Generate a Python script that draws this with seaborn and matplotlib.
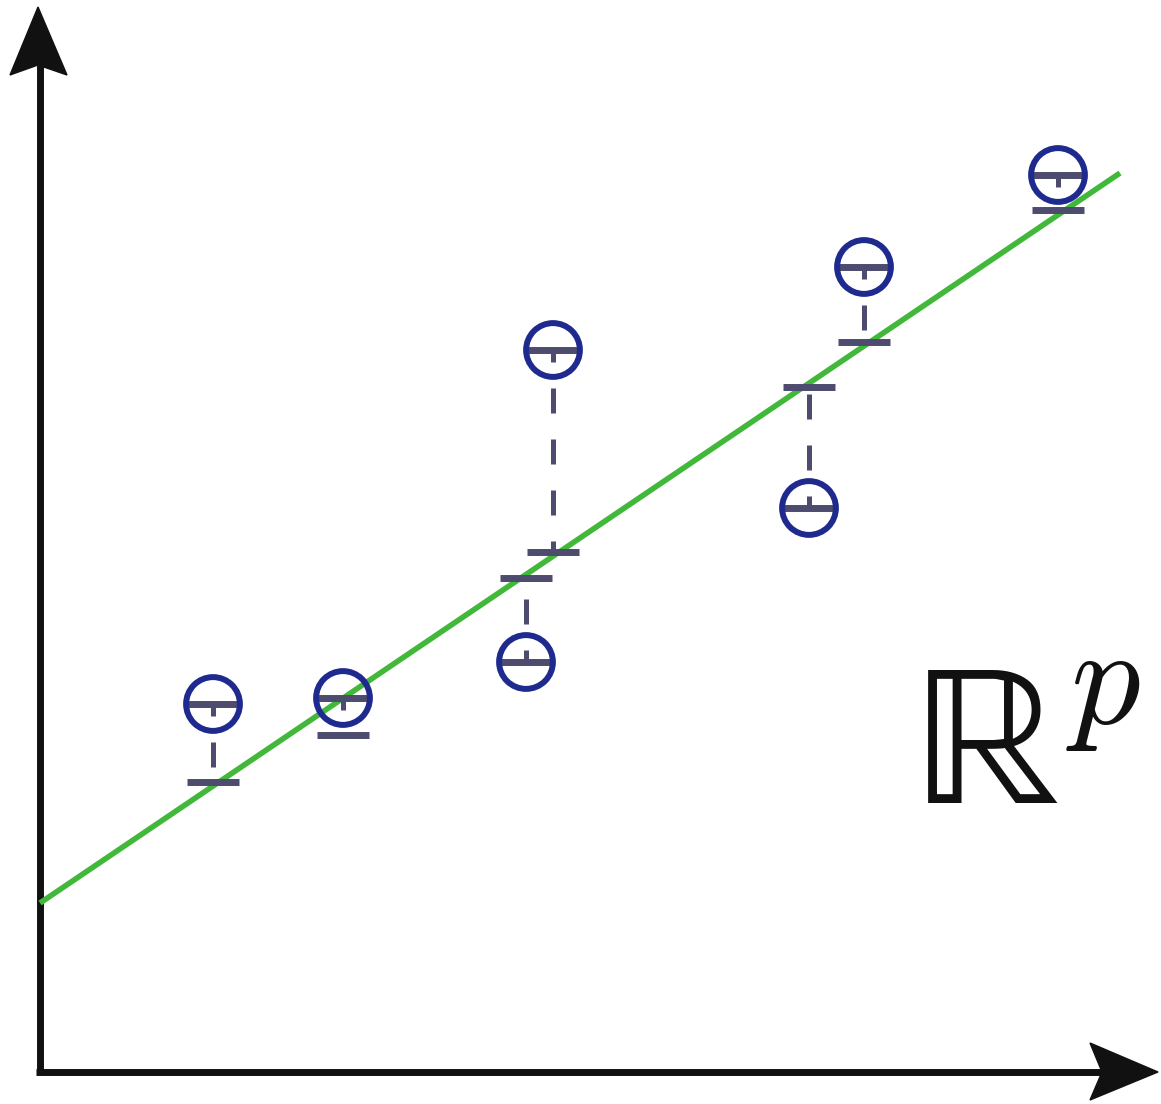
import matplotlib
matplotlib.use("Agg")
import matplotlib.pyplot as plt
import seaborn as sns
import pandas as pd
from matplotlib.patches import Polygon

sns.set_style("white")
plt.rcParams["mathtext.fontset"] = "cm"

# data (arbitrary units, origin at the axes corner)
x_vals = [1.73, 3.03, 4.86, 5.13, 7.69, 8.24, 10.18]
y_obs = [3.68, 3.74, 4.10, 7.22, 5.64, 8.05, 8.97]
y_fit = [2.90, 3.37, 4.94, 5.20, 6.85, 7.30, 8.62]
line_x = [0.0, 10.80]
line_y = [1.69, 8.99]
space_label = "\u211D"
power_label = r"$p$"

df = pd.DataFrame({"x": x_vals, "y": y_obs, "fit": y_fit})
line_df = pd.DataFrame({"x": line_x, "y": line_y})

fig = plt.figure(figsize=(11.61, 11.04), dpi=100)
ax = fig.add_axes([0, 0, 1, 1])
ax.set_xlim(-0.40, 11.21)
ax.set_ylim(-0.32, 10.72)
ax.axis("off")

green = "#41b83a"
bar_col = "#4d4b6e"
blue = "#1f2a8f"

# regression line
sns.lineplot(data=line_df, x="x", y="y", ax=ax, color=green, linewidth=4.0,
             solid_capstyle="butt", zorder=2)

# dashed residuals
ax.vlines(df["x"], df["y"], df["fit"], colors=bar_col, linewidth=3.6,
          linestyles=[(2.6, (5.0, 5.2))], zorder=3)

# caps on the line and bars inside circles
sns.scatterplot(data=df, x="x", y="fit", ax=ax, marker="_", s=37**2,
                color=bar_col, linewidth=5, zorder=4, legend=False)
sns.scatterplot(data=df, x="x", y="y", ax=ax, marker="_", s=37**2,
                color=bar_col, linewidth=5, zorder=4, legend=False)

# circles
sns.scatterplot(data=df, x="x", y="y", ax=ax, marker="o", s=1500,
                facecolor="none", edgecolor=blue, linewidth=4.3, zorder=5,
                legend=False)

# axes with arrows
ax.plot([0, 0], [-0.02, 10.07], color="#111111", linewidth=5, solid_capstyle="butt", zorder=1)
ax.plot([-0.04, 10.62], [0, 0], color="#111111", linewidth=5, solid_capstyle="butt", zorder=1)
ax.add_patch(Polygon([(-0.02, 10.65), (0.27, 9.97), (-0.02, 10.07), (-0.30, 9.97)],
                     closed=True, color="#111111", zorder=1))
ax.add_patch(Polygon([(11.18, 0.0), (10.50, 0.29), (10.62, 0.0), (10.50, -0.28)],
                     closed=True, color="#111111", zorder=1))

ax.text(8.74, 2.69, space_label, fontsize=145, va="baseline", ha="left",
        color="#111111", family=["STIXGeneral", "DejaVu Serif"])
ax.text(10.26, 3.49, power_label, fontsize=100, va="baseline", ha="left",
        color="#111111", math_fontfamily="cm")

fig.savefig("out.png", dpi=100)
